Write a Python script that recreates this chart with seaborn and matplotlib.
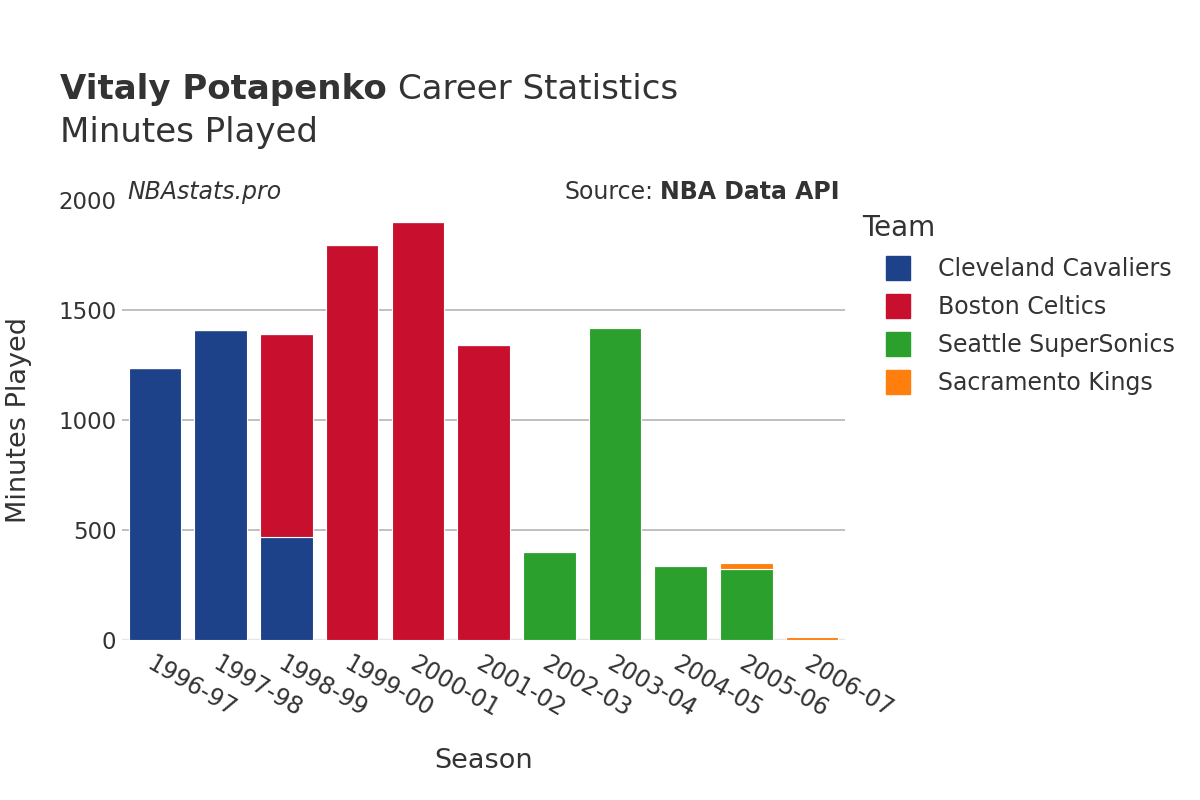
#!/usr/bin/env python3

import numpy as np
import pandas as pd
import matplotlib.pyplot as plt
from matplotlib.lines import Line2D
import seaborn as sns

# Dados
seasons = ["1996-97", "1997-98", "1998-99", "1999-00", "2000-01", "2001-02",
           "2002-03", "2003-04", "2004-05", "2005-06", "2006-07"]
teams = ["Cleveland Cavaliers", "Boston Celtics", "Seattle SuperSonics", "Sacramento Kings"]
cavaliers = [1238, 1410, 468, 0, 0, 0, 0, 0, 0, 0, 0]
celtics = [0, 0, 925, 1796, 1900, 1342, 0, 0, 0, 0, 0]
sonics = [0, 0, 0, 0, 0, 0, 400, 1418, 336, 322, 0]
kings = [0, 0, 0, 0, 0, 0, 0, 0, 0, 30, 12]
colors = ["#1d428a", "#c8102e", "#2ca02c", "#ff7f0e"]

values = {"Cleveland Cavaliers": cavaliers, "Boston Celtics": celtics,
          "Seattle SuperSonics": sonics, "Sacramento Kings": kings}

sns.set_style("white")
plt.rcParams["font.family"] = ["DejaVu Sans"]
text_color = "#333333"

fig = plt.figure(figsize=(12, 8), dpi=100)
ax = fig.add_axes([0.1017, 0.2, 0.6025, 0.55])

bottom = np.zeros(len(seasons))
for team, color in zip(teams, colors):
    vals = np.array(values[team], dtype=float)
    df = pd.DataFrame({"season": seasons, "minutes": vals})
    sns.barplot(data=df, x="season", y="minutes", order=seasons, color=color,
                bottom=bottom, width=0.8, edgecolor="white", linewidth=0.8,
                ax=ax, saturation=1)
    bottom += vals

ax.set_ylim(0, 2000)
ax.set_xlim(-0.5, len(seasons) - 0.5)
ax.set_yticks([0, 500, 1000, 1500, 2000])
ax.set_yticklabels(["0", "500", "1000", "1500", "2000"])
for y in [500, 1000, 1500]:
    ax.axhline(y, color="#b5b5b5", linewidth=1.2, zorder=0)
ax.axhline(0, color="#e6e6e6", linewidth=2.5, zorder=0)
for s in ax.spines.values():
    s.set_visible(False)
ax.tick_params(axis="y", length=0, labelsize=16.5, colors=text_color, pad=4)
ax.tick_params(axis="x", length=0, labelsize=17, colors=text_color, pad=8)
plt.setp(ax.get_xticklabels(), rotation=-30, ha="left", rotation_mode="anchor")
ax.set_xlabel("Season", fontsize=19.5, color=text_color, labelpad=19)
ax.set_ylabel("Minutes Played", fontsize=19.5, color=text_color, labelpad=19)

# Títulos
t1 = fig.text(0.05, 0.876, "Vitaly Potapenko", fontsize=24.5, color=text_color,
              fontweight="bold", va="baseline")
fig.canvas.draw()
bb = t1.get_window_extent()
fig.text(bb.x1 / fig.bbox.width + 0.009, 0.876, "Career Statistics", fontsize=24.5,
         color=text_color, va="baseline")
fig.text(0.05, 0.822, "Minutes Played", fontsize=24.5, color=text_color, va="baseline")

fig.text(0.106, 0.751, "NBAstats.pro", fontsize=17, style="italic", color=text_color, va="baseline")
t2 = fig.text(0.7, 0.751, "NBA Data API", fontsize=17, fontweight="bold", color=text_color,
              va="baseline", ha="right")
fig.canvas.draw()
bb2 = t2.get_window_extent()
fig.text(bb2.x0 / fig.bbox.width - 0.006, 0.751, "Source:", fontsize=17, color=text_color,
         va="baseline", ha="right")

# Legenda
handles = [Line2D([0], [0], marker="s", linestyle="", markersize=17, markerfacecolor=c,
                  markeredgecolor=c) for c in colors]
leg = fig.legend(handles, teams, title="Team", loc="upper left", bbox_to_anchor=(0.7185, 0.733),
                 frameon=False, fontsize=17, title_fontsize=20, handlelength=3.0,
                 handletextpad=0.2, labelspacing=0.6, borderaxespad=0, borderpad=0)
leg._legend_box.align = "left"
leg._legend_box.sep = 11
for t in leg.get_texts():
    t.set_color(text_color)
leg.get_title().set_color(text_color)

fig.savefig("out.png", dpi=100)
